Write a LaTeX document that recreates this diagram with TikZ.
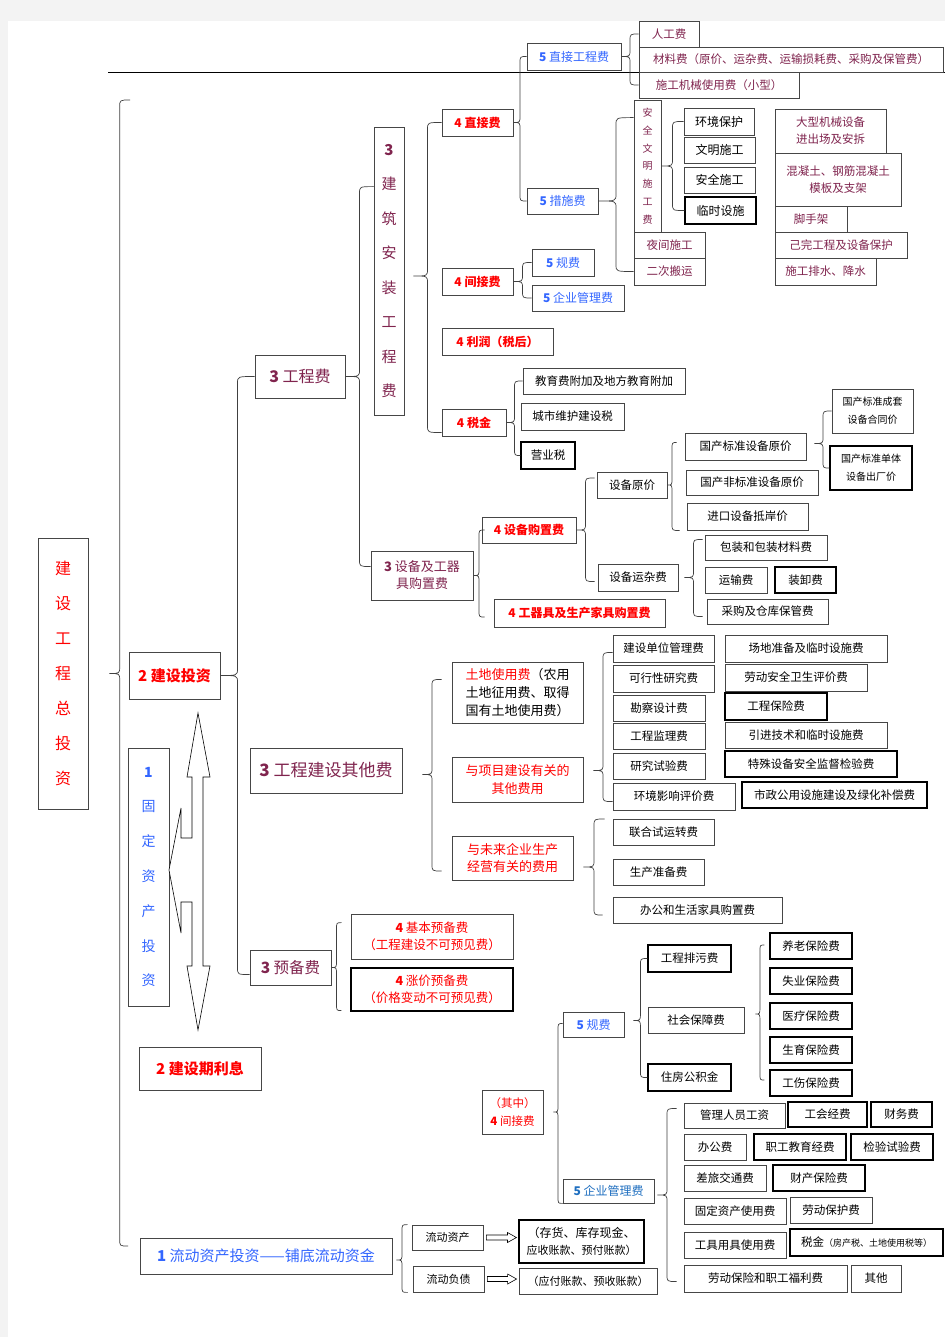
\documentclass[tikz,border=0pt]{standalone}
\usepackage{fontspec}
\setmainfont{Noto Sans CJK SC}
\usetikzlibrary{calc}

\definecolor{cred}{RGB}{255,0,0}
\definecolor{cblue}{RGB}{51,102,255}
\definecolor{csteel}{RGB}{31,111,192}
\definecolor{cplum}{RGB}{128,36,78}
\definecolor{cedge}{RGB}{70,70,70}
\definecolor{cband}{RGB}{243,243,243}

\newcommand\brc[3]{%
  \draw[brc] let \p1=(#1), \p2=(#2), \p3=(#3), \n1={(\x1+\x2)/2} in
    (\p2) .. controls (\n1,\y2) .. (\n1,\y2-7pt) -- (\n1,\y1+7pt)
    .. controls (\n1,\y1) .. (\p1) .. controls (\n1,\y1) .. (\n1,\y1-7pt)
    -- (\n1,\y3+7pt) .. controls (\n1,\y3) .. (\p3);}
\newcommand\blkarrow[2]{%
  \draw[blk] let \p1=($(#1.east)+(3,0)$), \p2=($(#2.west)+(-2,0)$) in
    (\x1,\y1+2.5pt) -- (\x2-9pt,\y1+2.5pt) -- (\x2-9pt,\y1+5pt) -- (\x2,\y1)
    -- (\x2-9pt,\y1-5pt) -- (\x2-9pt,\y1-2.5pt) -- (\x1,\y1-2.5pt) -- cycle;}

\begin{document}
\begin{tikzpicture}[x=1pt,y=-1pt,
  every node/.style={fs={11.5}{14}},
  box/.style={draw=cedge,line width=0.8pt,fill=white,inner sep=0pt,align=center},
  hv/.style={draw=black,line width=1.1pt},
  sz/.style 2 args={minimum width=#1pt,minimum height=#2pt},
  fs/.style 2 args={font=\fontsize{#1}{#2}\selectfont},
  redt/.style={text=cred},
  bluet/.style={text=cblue},
  plumt/.style={text=cplum},
  brc/.style={draw=black!75,line width=0.7pt},
  blk/.style={draw=black,line width=0.6pt,fill=white}]
\fill[cband] (0,0) rectangle (945,1337);
\fill[white] (8,21) rectangle (945,1337);
\useasboundingbox (0,0) rectangle (945,1337);
\draw[line width=0.8pt] (108,72) -- (945,72);

\node[box,sz={50}{271},fs={16}{35},redt] (ztz) at (63,673.5) {建\\设\\工\\程\\总\\投\\资};
\node[box,sz={91}{47},fs={15}{18},redt] (jstz) at (174.5,675.5) {\bfseries 2 建设投资};
\node[box,sz={41}{258},fs={14}{34.8},bluet] (gdzc) at (148.5,877) {{\bfseries 1}\\固\\定\\资\\产\\投\\资};
\node[box,sz={122}{43},fs={15}{18},redt] (jsqlx) at (200,1068.5) {\bfseries 2 建设期利息};
\node[box,sz={252}{36},fs={15}{18},bluet] (ldzc) at (266,1256) {{\bfseries 1} 流动资产投资——铺底流动资金};
\draw[blk] (198,713) -- (210,777) -- (203,777) -- (203,966) -- (210,966) -- (198,1030)
  -- (187,966) -- (192,966) -- (192,902) -- (181,902) -- (181,933) -- (169,870)
  -- (181,808) -- (181,838) -- (192,838) -- (192,777) -- (187,777) -- cycle;

\node[box,sz={90}{43},fs={16}{18},plumt] (gcf) at (300,376.5) {{\bfseries 3} 工程费};
\node[box,sz={152}{45},fs={17}{20},plumt] (jsqt) at (326,770.5) {{\bfseries 3} 工程建设其他费};
\node[box,sz={81}{35},fs={15.5}{18},plumt] (ybf) at (290.5,967.5) {{\bfseries 3} 预备费};
\node[box,sz={30}{288},fs={15}{34.5},plumt] (jazf) at (389,271) {{\bfseries 3}\\建\\筑\\安\\装\\工\\程\\费};
\node[box,sz={102}{49},fs={13}{17},plumt] (sbgj) at (422,575.5) {{\bfseries 3} 设备及工器\\具购置费};

\node[box,sz={71}{27},fs={12}{14},redt] (zjf) at (477.5,122.5) {\bfseries 4 直接费};
\node[box,sz={71}{27},fs={12}{14},redt] (jjf) at (477.5,281.5) {\bfseries 4 间接费};
\node[box,sz={111}{27},fs={12}{14},redt] (lr) at (497.5,341.5) {\bfseries 4 利润（税后）};
\node[box,sz={64}{27},fs={12}{14},redt] (sj) at (474,422.5) {\bfseries 4 税金};
\node[box,sz={94}{26},fs={12}{14},redt] (sbgz) at (529,530) {\bfseries 4 设备购置费};
\node[box,sz={171}{28},fs={12}{14},redt] (gqj) at (579.5,613) {\bfseries 4 工器具及生产家具购置费};

\node[box,sz={94}{27},fs={12}{14},bluet] (zjgc) at (574,56.5) {{\bfseries 5} 直接工程费};
\node[box,sz={71}{26},fs={12}{14},bluet] (csf) at (562.5,201) {{\bfseries 5} 措施费};
\node[box,sz={62}{27},fs={12}{14},bluet] (gfa) at (563,262.5) {{\bfseries 5} 规费};
\node[box,sz={92}{26},fs={12}{14},bluet] (qyga) at (578,298) {{\bfseries 5} 企业管理费};

\node[box,sz={60}{26},plumt] (rgf) at (669,34) {人工费};
\node[box,sz={304}{25},plumt] (clf) at (791,59.5) {材料费（原价、运杂费、运输损耗费、采购及保管费）};
\node[box,sz={160}{26},plumt] (jxf) at (719,85) {施工机械使用费（小型）};

\node[box,sz={27}{132},fs={10}{17.8},plumt] (aqwm) at (647.5,166) {安\\全\\文\\明\\施\\工\\费};
\node[box,sz={70}{27},fs={12}{14}] (hjbh) at (719,121.5) {环境保护};
\node[box,sz={71}{26},fs={12}{14}] (wmsg) at (719.5,150) {文明施工};
\node[box,sz={71}{26},fs={12}{14}] (aqsg) at (719.5,180) {安全施工};
\node[box,hv,sz={71}{27},fs={12}{14}] (lsss) at (720.5,210.5) {临时设施};
\node[box,sz={71}{26},plumt] (yjsg) at (669.5,245) {夜间施工};
\node[box,sz={71}{27},plumt] (ecby) at (669.5,271.5) {二次搬运};
\node[box,sz={111}{44},fs={11.5}{17},plumt] (dxjx) at (830.5,131) {大型机械设备\\进出场及安拆};
\node[box,sz={126}{53},fs={11.5}{17},plumt] (hnt) at (838,179.5) {混凝土、钢筋混凝土\\模板及支架};
\node[box,sz={72}{26},plumt] (jsj) at (811,219) {脚手架};
\node[box,sz={132}{26},plumt] (ywgc) at (841,245) {己完工程及设备保护};
\node[box,sz={101}{27},plumt] (sgps) at (825.5,271.5) {施工排水、降水};

\node[box,sz={162}{26}] (jyfj) at (604,381) {教育费附加及地方教育附加};
\node[box,sz={103}{27}] (cswh) at (572.5,416.5) {城市维护建设税};
\node[box,hv,sz={54}{27}] (yys) at (548,455.5) {营业税};

\node[box,sz={70}{26}] (sbyj) at (632,485) {设备原价};
\node[box,sz={121}{27}] (gcbz) at (745.5,446.5) {国产标准设备原价};
\node[box,sz={132}{25}] (gcfb) at (752,482.5) {国产非标准设备原价};
\node[box,sz={121}{27}] (jksb) at (747.5,516.5) {进口设备抵岸价};
\node[box,sz={81}{44},fs={10}{18}] (ctht) at (872.5,411) {国产标准成套\\设备合同价};
\node[box,hv,sz={82}{44},fs={10}{18}] (dtcc) at (871,468) {国产标准单体\\设备出厂价};
\node[box,sz={80}{27}] (sbyz) at (638,577.5) {设备运杂费};
\node[box,sz={122}{25}] (bzcl) at (766,547.5) {包装和包装材料费};
\node[box,sz={62}{26}] (ysf) at (736,580) {运输费};
\node[box,hv,sz={61}{26}] (zxf) at (805.5,580) {装卸费};
\node[box,sz={121}{25}] (cgbg) at (767.5,611.5) {采购及仓库保管费};

\node[box,sz={131}{61},fs={13}{18}] (tdsy) at (517.5,692.5) {{\color{cred}土地使用费}（农用\\土地征用费、取得\\国有土地使用费）};
\node[box,sz={131}{45},fs={13}{17.5},redt] (xmjs) at (517.5,779.5) {与项目建设有关的\\其他费用};
\node[box,sz={121}{44},fs={13}{17.5},redt] (wlqy) at (512.5,858) {与未来企业生产\\经营有关的费用};
\node[box,sz={101}{27}] (jsdw) at (663.5,648.5) {建设单位管理费};
\node[box,sz={101}{27}] (kxx) at (663.5,678.5) {可行性研究费};
\node[box,sz={92}{26}] (kcsj) at (659,708) {勘察设计费};
\node[box,sz={92}{26}] (gcjl) at (659,736) {工程监理费};
\node[box,sz={92}{26}] (yjsy) at (659,766) {研究试验费};
\node[box,sz={122}{27}] (hjyx) at (674,796.5) {环境影响评价费};
\node[box,sz={162}{27}] (cdzb) at (806,648.5) {场地准备及临时设施费};
\node[box,sz={142}{27}] (ldaq) at (796,677.5) {劳动安全卫生评价费};
\node[box,hv,sz={102}{27}] (gcbx) at (776,706.5) {工程保险费};
\node[box,sz={162}{26}] (yjjs) at (806,735) {引进技术和临时设施费};
\node[box,hv,sz={172}{26}] (tssb) at (811,764) {特殊设备安全监督检验费};
\node[box,hv,sz={185}{26}] (szgy) at (834.5,795) {市政公用设施建设及绿化补偿费};
\node[box,sz={101}{26}] (lhsy) at (663.5,832) {联合试运转费};
\node[box,sz={91}{26}] (sczb) at (658.5,872) {生产准备费};
\node[box,sz={169}{26}] (bgjj) at (697.5,910) {办公和生活家具购置费};

\node[box,sz={162}{45},fs={12.5}{17},redt] (jbyb) at (432,936.5) {{\bfseries 4} 基本预备费\\（工程建设不可预见费）};
\node[box,hv,sz={162}{43},fs={12.5}{17},redt] (zjyb) at (432,989.5) {{\bfseries 4} 涨价预备费\\（价格变动不可预见费）};

\node[box,sz={61}{44},fs={11.5}{18},redt] (qzjj) at (512.5,1112) {（其中）\\{\bfseries 4} 间接费};
\node[box,sz={61}{25},fs={12}{14},bluet] (gfb) at (593.5,1024.5) {{\bfseries 5} 规费};
\node[box,sz={91}{24},fs={12}{14},text=csteel] (qygb) at (608.5,1191) {{\bfseries 5} 企业管理费};
\node[box,hv,sz={83}{27}] (gcpw) at (689.5,958.5) {工程排污费};
\node[box,sz={96}{26}] (shbz) at (696,1020) {社会保障费};
\node[box,hv,sz={83}{27}] (zfgj) at (689.5,1077.5) {住房公积金};
\node[box,hv,sz={82}{26}] (ylbx) at (811,946) {养老保险费};
\node[box,hv,sz={82}{26}] (sybx) at (811,981) {失业保险费};
\node[box,hv,sz={82}{26}] (yiliao) at (811,1016) {医疗保险费};
\node[box,hv,sz={82}{26}] (syu) at (811,1050) {生育保险费};
\node[box,hv,sz={82}{26}] (gsbx) at (811,1083) {工伤保险费};

\node[box,sz={101}{25}] (glry) at (734.5,1115.5) {管理人员工资};
\node[box,hv,sz={79}{25}] (ghjf) at (827.5,1114.5) {工会经费};
\node[box,hv,sz={61}{25}] (cwf) at (901.5,1114.5) {财务费};
\node[box,sz={62}{26}] (bgf) at (715,1147) {办公费};
\node[box,hv,sz={92}{26}] (zgjy) at (800,1147) {职工教育经费};
\node[box,hv,sz={82}{26}] (jysy) at (892,1147) {检验试验费};
\node[box,sz={82}{26}] (clj) at (725,1178) {差旅交通费};
\node[box,hv,sz={92}{26}] (ccbx) at (819,1178) {财产保险费};
\node[box,sz={102}{26}] (gdzs) at (735,1211) {固定资产使用费};
\node[box,sz={82}{26}] (ldbh) at (831,1210) {劳动保护费};
\node[box,sz={102}{26}] (gjyj) at (735,1245) {工具用具使用费};
\node[box,hv,sz={153}{27}] (sjfc) at (866.5,1242.5) {税金{\fontsize{9}{11}\selectfont（房产税、土地使用税等）}};
\node[box,sz={163}{27}] (ldfl) at (765.5,1278.5) {劳动保险和职工福利费};
\node[box,sz={50}{27}] (qt) at (876,1278.5) {其他};

\node[box,sz={71}{25},fs={11}{14}] (ldzb) at (447.5,1237.5) {流动资产};
\node[box,sz={71}{26},fs={11}{14}] (ldfz) at (448.5,1279) {流动负债};
\node[box,hv,sz={125}{43},fs={12}{17}] (chxj) at (581.5,1241.5) {（存货、库存现金、\\{\fontsize{11}{17}\selectfont 应收账款、预付账款）}};
\node[box,sz={138}{26},fs={11}{14}] (yfzk) at (588,1281) {（应付账款、预收账款）};
\blkarrow{ldzb}{chxj}
\blkarrow{ldfz}{yfzk}

\coordinate (ztop) at (130,100);
\coordinate (zbot) at (128,1246);
\brc{$(ztz.east)+(21,0)$}{ztop}{zbot}
\brc{jstz.east}{gcf.west}{$(ybf.west)+(0,7)$}
\brc{gcf.east}{$(jazf.north west)+(0,60)$}{$(sbgj.west)+(0,-9)$}
\brc{$(jazf.east)+(9,5)$}{zjf.west}{$(sj.west)+(0,10)$}
\brc{zjf.east}{zjgc.west}{csf.west}
\brc{zjgc.east}{rgf.west}{jxf.west}
\brc{csf.east}{$(aqwm.north west)+(0,18)$}{ecby.west}
\brc{aqwm.east}{hjbh.west}{lsss.west}
\brc{jjf.east}{gfa.west}{qyga.west}
\brc{sj.east}{jyfj.west}{yys.west}
\brc{$(gcbz.east)+(8,-3)$}{ctht.west}{dtcc.west}
\brc{sbyj.east}{$(gcbz.west)+(-8,-4)$}{$(jksb.west)+(-7,14)$}
\brc{sbgz.east}{$(sbyj.west)+(-2,-7)$}{$(sbyz.west)+(-3,4)$}
\brc{$(sbyz.east)+(6,0)$}{$(bzcl.west)+(-2,-8)$}{$(cgbg.west)+(-4,5)$}
\brc{sbgj.east}{$(sbgz.west)+(3,0)$}{$(gqj.west)+(-9,4)$}
\brc{$(jsqt.east)+(20,4)$}{$(tdsy.west)+(-10,-13)$}{$(wlqy.west)+(-10,13)$}
\brc{$(xmjs.east)+(10,-9)$}{$(jsdw.west)+(0,4)$}{$(hjyx.west)+(0,5)$}
\brc{$(wlqy.east)+(10,9)$}{$(lhsy.west)+(-8,-13)$}{$(bgjj.west)+(-10,5)$}
\brc{ybf.east}{$(jbyb.north west)+(-9,9)$}{$(zjyb.south west)+(-9,-1)$}
\brc{$(gfb.east)+(9,-4)$}{gcpw.west}{zfgj.west}
\brc{$(shbz.east)+(11,-6)$}{$(ylbx.west)+(-5,-1)$}{$(gsbx.west)+(-5,-3)$}
\brc{$(qzjj.east)+(10,0)$}{$(gfb.west)+(0,-1)$}{qygb.south west}
\brc{$(qygb.east)+(3,4)$}{$(glry.west)+(-7,-7)$}{$(ldfl.west)+(-7,3)$}
\brc{$(ldzc.east)+(4,4)$}{$(ldzb.north west)+(-4,0)$}{$(ldfz.south west)+(-5,0)$}
\end{tikzpicture}
\end{document}
